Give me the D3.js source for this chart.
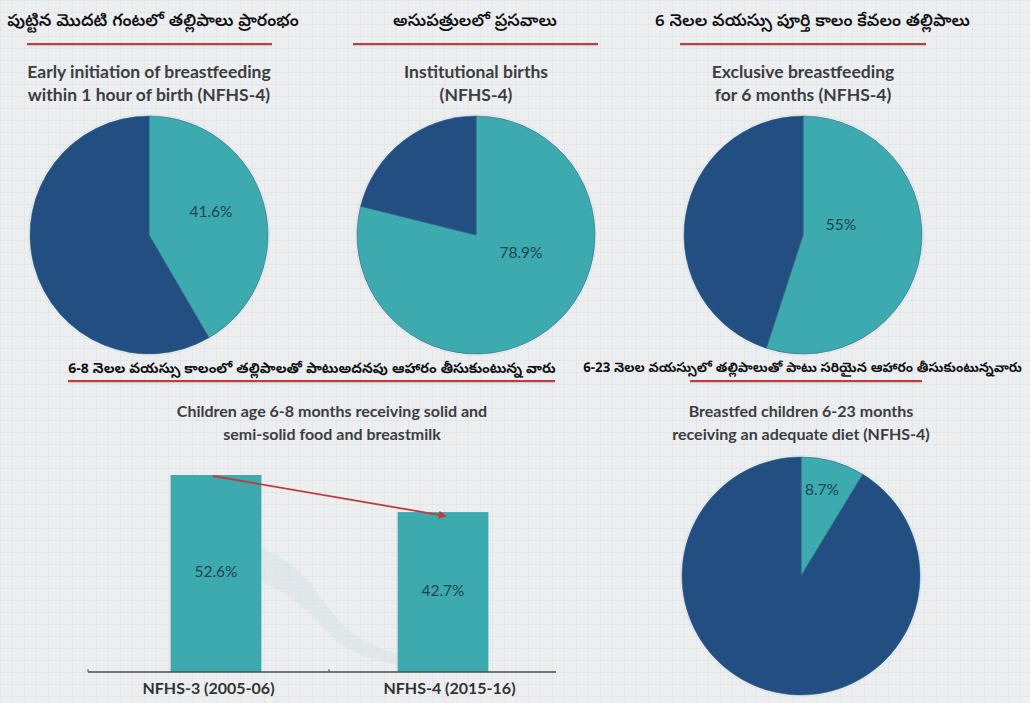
<!DOCTYPE html>
<html>
<head>
<meta charset="utf-8">
<script src="https://cdn.jsdelivr.net/npm/d3@7"></script>
<style>
  html, body { margin: 0; padding: 0; background: #eceef0; }
  svg { display: block; }
</style>
</head>
<body>
<div id="chart"></div>
<script>
// ---- data ----
const teluguHeaders = [
  "పుట్టిన మొదటి గంటలో తల్లిపాలు ప్రారంభం",
  "అసుపత్రులలో ప్రసవాలు",
  "6 నెలల వయస్సు పూర్తి కాలం కేవలం తల్లిపాలు",
  "6-8 నెలల వయస్సు కాలంలో తల్లిపాలతో పాటుఅదనపు ఆహారం తీసుకుంటున్న వారు",
  "6-23 నెలల వయస్సులో తల్లిపాలుతో పాటు సరియైన ఆహారం తీసుకుంటున్నవారు"
];
const pieTitles = [
  ["Early initiation of breastfeeding", "within 1 hour of birth (NFHS-4)"],
  ["Institutional births", "(NFHS-4)"],
  ["Exclusive breastfeeding", "for 6 months (NFHS-4)"],
  ["Breastfed children 6-23 months", "receiving an adequate diet (NFHS-4)"]
];
const pieValues = [41.6, 78.9, 55, 8.7];
const pieLabels = ["41.6%", "78.9%", "55%", "8.7%"];

const barTitle = ["Children age 6-8 months receiving solid and", "semi-solid food and breastmilk"];
const barCategories = ["NFHS-3 (2005-06)", "NFHS-4 (2015-16)"];
const barValues = [52.6, 42.7];
const barLabels = ["52.6%", "42.7%"];

// ---- layout ----
const width = 1030, height = 703;
const teal = "#3caaae", navy = "#234e82", labelColor = "#1c4550";
const titleColor = "#3b3d40", red = "#c23b3b";
const radius = 119;
const pieLayout = [
  { cx: 149, cy: 235, ty: 74, ts: 17.5, lx: 62, ly: -22 },
  { cx: 476, cy: 235, ty: 74, ts: 17.5, lx: 45, ly: 19 },
  { cx: 803, cy: 235, ty: 74, ts: 17.5, lx: 38, ly: -9 },
  { cx: 801, cy: 576, ty: 413, ts: 16, lx: 21, ly: -85 }
];
// x0/x1 = extent the header text should fit in
const headerLayout = [
  { x0: 6, x1: 300, y: 22, u: [27, 272], uy: 44 },
  { x0: 393, x1: 557, y: 22, u: [353, 598], uy: 44 },
  { x0: 655, x1: 970, y: 22, u: [680, 926], uy: 44 },
  { x0: 68, x1: 556, y: 369, u: [68, 555], uy: 381 },
  { x0: 583, x1: 1022, y: 369, u: [690, 922], uy: 381 }
];

const svg = d3.select("#chart").append("svg")
  .attr("width", width).attr("height", height)
  .attr("viewBox", `0 0 ${width} ${height}`);

// background with faint grid
const defs = svg.append("defs");
const pat = defs.append("pattern").attr("id", "grid")
  .attr("width", 12).attr("height", 12).attr("patternUnits", "userSpaceOnUse");
pat.append("rect").attr("width", 12).attr("height", 12).attr("fill", "#eceef0");
pat.append("path").attr("d", "M0 0.5H12M0.5 0V12")
  .attr("stroke", "#e4e7ea").attr("stroke-width", 1);
svg.append("rect").attr("width", width).attr("height", height).attr("fill", "url(#grid)");

defs.append("marker").attr("id", "arrow")
  .attr("viewBox", "0 0 10 10").attr("refX", 9).attr("refY", 5)
  .attr("markerWidth", 4.5).attr("markerHeight", 4.5).attr("orient", "auto")
  .append("path").attr("d", "M0 0L10 5L0 10z").attr("fill", red);

const teluguFont = "'Noto Sans Telugu', 'Lohit Telugu', Gautami, 'Noto Sans', sans-serif";
const engFont = "Lato, 'Open Sans', sans-serif";

// Telugu headers with red underline
headerLayout.forEach((h, i) => {
  svg.append("line")
    .attr("x1", h.u[0]).attr("x2", h.u[1])
    .attr("y1", h.uy + 1.5).attr("y2", h.uy + 1.5)
    .attr("stroke", "#b9b9b9").attr("stroke-width", 1.5).attr("opacity", 0.6);
  svg.append("line")
    .attr("x1", h.u[0]).attr("x2", h.u[1])
    .attr("y1", h.uy).attr("y2", h.uy)
    .attr("stroke", red).attr("stroke-width", 2.2);
  const t = svg.append("text")
    .attr("x", (h.x0 + h.x1) / 2).attr("y", h.y)
    .attr("text-anchor", "middle").attr("dominant-baseline", "middle")
    .attr("font-family", teluguFont).attr("font-size", 17)
    .attr("font-weight", i >= 3 ? 700 : 600)
    .attr("fill", "#111")
    .text(teluguHeaders[i]);
  // shrink the header to fit its extent
  const w = t.node().getComputedTextLength();
  const target = h.x1 - h.x0;
  if (w > target) t.attr("font-size", 17 * target / w);
});

function twoLineTitle(lines, cx, y, size) {
  const t = svg.append("text")
    .attr("text-anchor", "middle")
    .attr("font-family", engFont).attr("font-size", size).attr("font-weight", 700)
    .attr("fill", titleColor);
  lines.forEach((l, k) => {
    t.append("tspan").attr("x", cx).attr("y", y + k * 23)
      .attr("dominant-baseline", "middle").text(l);
  });
}

// ---- pies ----
const pie = d3.pie().sort(null).value(d => d);
const arc = d3.arc().innerRadius(0).outerRadius(radius);

pieValues.forEach((v, i) => {
  const L = pieLayout[i];
  twoLineTitle(pieTitles[i], L.cx, L.ty, L.ts);
  const g = svg.append("g").attr("transform", `translate(${L.cx},${L.cy})`);
  g.append("circle").attr("r", radius + 1.5).attr("fill", "#f7fafc")
    .attr("stroke", "#d5dde3").attr("stroke-width", 0.8);
  g.selectAll("path.slice")
    .data(pie([v, 100 - v]))
    .join("path")
    .attr("class", "slice")
    .attr("d", arc)
    .attr("fill", (d, k) => k === 0 ? teal : navy)
    .attr("stroke", "#2b5f78").attr("stroke-width", 0.6);
  g.append("text")
    .attr("x", L.lx).attr("y", L.ly)
    .attr("text-anchor", "middle").attr("dominant-baseline", "middle")
    .attr("font-family", engFont).attr("font-size", 15.5)
    .attr("fill", labelColor)
    .text(pieLabels[i]);
});

// ---- bar chart ----
twoLineTitle(barTitle, 332, 413, 16);

const x = d3.scaleBand()
  .domain(barCategories)
  .range([102.5, 556.5])
  .paddingInner(0.6).paddingOuter(0.3);
const xAxisScale = d3.scaleBand().domain(barCategories).range([88, 570]);
const y = d3.scaleLinear().domain([0, 52.6]).range([672, 475]);

// faint decorative shadow between bars
const sx0 = x(barCategories[0]) + x.bandwidth(), sx1 = x(barCategories[1]);
svg.append("path")
  .attr("d", `M${sx0},${y(33)} C${sx0 + 70},${y(26)} ${sx1 - 80},${y(10)} ${sx1},${y(5)}
              L${sx1},${y(2)} C${sx1 - 80},${y(5)} ${sx0 + 70},${y(16)} ${sx0},${y(24)} Z`)
  .attr("fill", "#cddcdf").attr("opacity", 0.35);

svg.selectAll("rect.bar")
  .data(barValues)
  .join("rect")
  .attr("class", "bar")
  .attr("x", (d, i) => x(barCategories[i]))
  .attr("y", d => y(d))
  .attr("width", x.bandwidth())
  .attr("height", d => y(0) - y(d))
  .attr("fill", teal);

svg.selectAll("text.barlabel")
  .data(barValues)
  .join("text")
  .attr("class", "barlabel")
  .attr("x", (d, i) => x(barCategories[i]) + x.bandwidth() / 2)
  .attr("y", d => (y(d) + y(0)) / 2)
  .attr("text-anchor", "middle").attr("dominant-baseline", "middle")
  .attr("font-family", engFont).attr("font-size", 15.5)
  .attr("fill", labelColor)
  .text((d, i) => barLabels[i]);

// axis
const axis = svg.append("g").attr("transform", `translate(0,${y(0)})`)
  .call(d3.axisBottom(xAxisScale).tickSize(0).tickPadding(11));
axis.select(".domain").remove();
axis.selectAll("text")
  .attr("font-family", engFont).attr("font-size", 16).attr("font-weight", 700)
  .attr("fill", "#333");
axis.append("line")
  .attr("x1", 88).attr("x2", 556).attr("y1", 0).attr("y2", 0)
  .attr("stroke", "#4a4d50").attr("stroke-width", 1.6);
axis.selectAll("line.tick-b")
  .data([xAxisScale(barCategories[0]), xAxisScale(barCategories[1])])
  .join("line")
  .attr("class", "tick-b")
  .attr("x1", d => d).attr("x2", d => d)
  .attr("y1", 0).attr("y2", -3)
  .attr("stroke", "#4a4d50").attr("stroke-width", 1);

// red arrow from bar1 top to bar2 top
const ax0 = x(barCategories[0]) + x.bandwidth() / 2 - 3;
const ax1 = x(barCategories[1]) + x.bandwidth() / 2 + 3;
svg.append("line")
  .attr("x1", ax0).attr("y1", y(barValues[0]) + 1)
  .attr("x2", ax1).attr("y2", y(barValues[1]) + 4)
  .attr("stroke", red).attr("stroke-width", 1.8)
  .attr("marker-end", "url(#arrow)");
</script>
</body>
</html>
